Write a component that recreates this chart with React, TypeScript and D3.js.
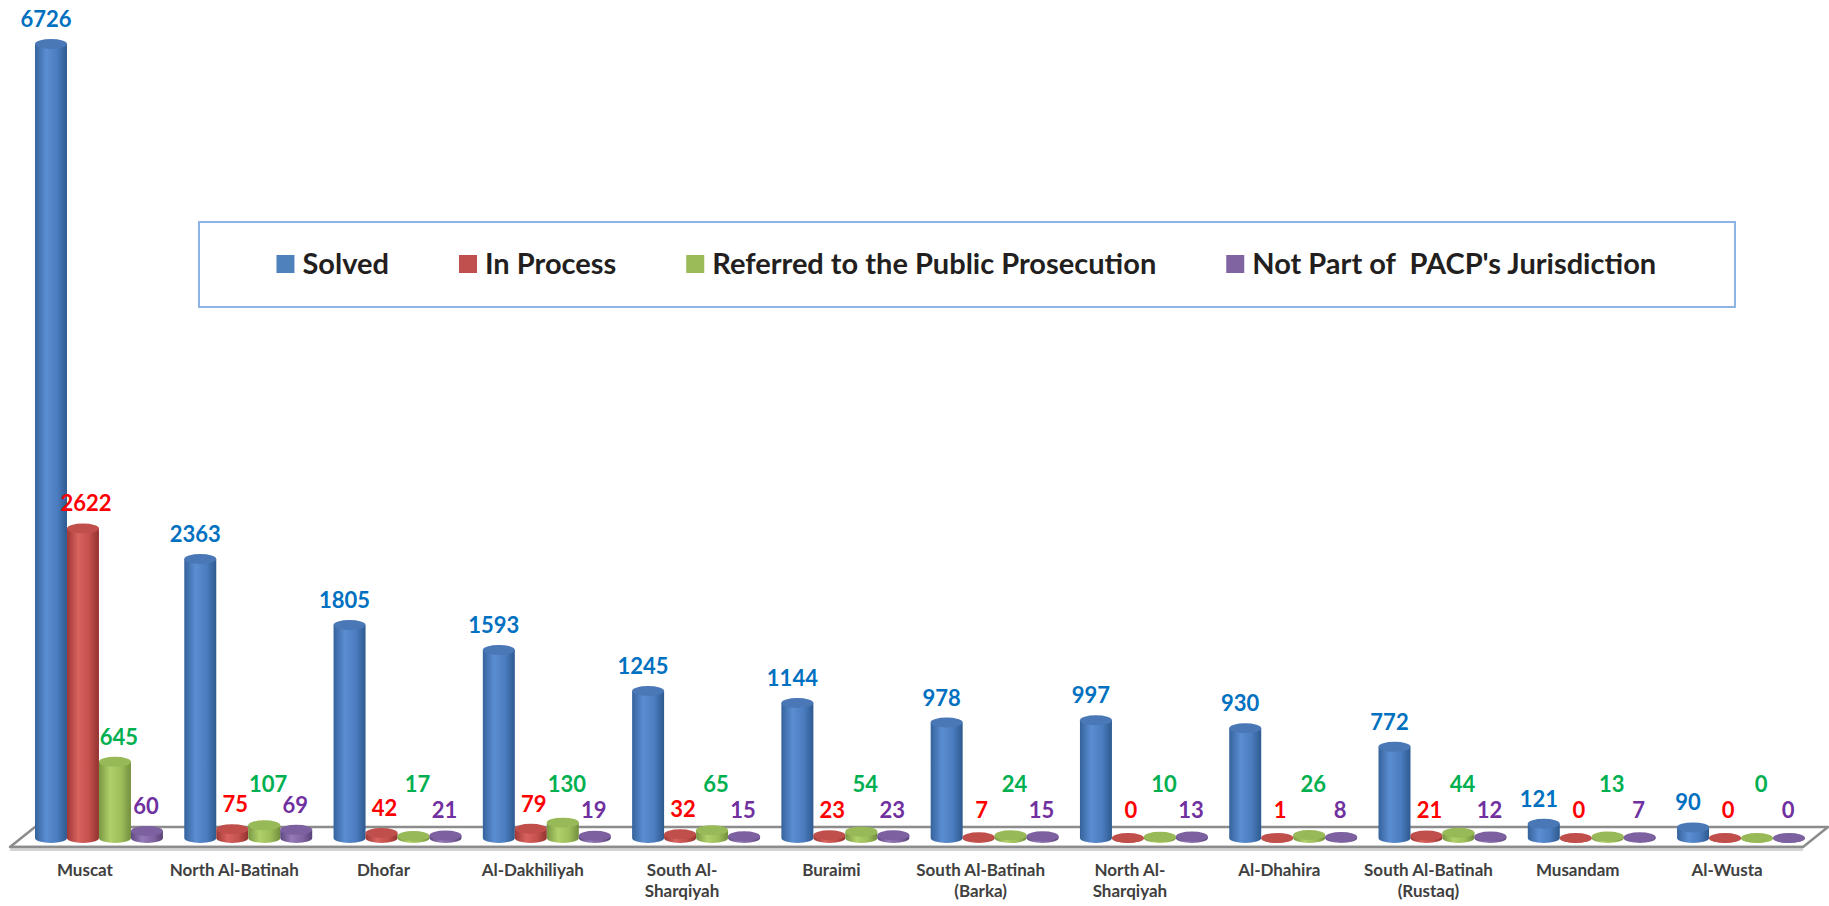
import { useMemo } from 'react';
import * as d3 from 'd3';

const categories = [
  'Muscat',
  'North Al-Batinah',
  'Dhofar',
  'Al-Dakhiliyah',
  'South Al-\nSharqiyah',
  'Buraimi',
  'South Al-Batinah\n(Barka)',
  'North Al-\nSharqiyah',
  'Al-Dhahira',
  'South Al-Batinah\n(Rustaq)',
  'Musandam',
  'Al-Wusta',
];

const solved = [6726, 2363, 1805, 1593, 1245, 1144, 978, 997, 930, 772, 121, 90];
const inProcess = [2622, 75, 42, 79, 32, 23, 7, 0, 1, 21, 0, 0];
const referred = [645, 107, 17, 130, 65, 54, 24, 10, 26, 44, 13, 0];
const notPart = [60, 69, 21, 19, 15, 23, 15, 13, 8, 12, 7, 0];

const seriesNames = [
  'Solved',
  'In Process',
  'Referred to the Public Prosecution',
  "Not Part of  PACP's Jurisdiction",
];

const W = 1829;
const H = 906;
const FONT = 'Lato, "Open Sans", sans-serif';

// cylinder shading per series: dark edge, light, mid, dark edge, top cap
const styles = [
  { id: 'blue', stops: ['#35639c', '#5b8dd2', '#4b7cbf', '#2e5a8f'], top: '#4a77b6', swatch: '#4f81bd', label: '#0070c0', dx: -5, clamp: 818 },
  { id: 'red', stops: ['#9e3835', '#d8625e', '#c3504c', '#93322f'], top: '#c04f4b', swatch: '#c0504d', label: '#ff0000', dx: 3, clamp: 818 },
  { id: 'green', stops: ['#7a9843', '#b0d06a', '#9dbd5a', '#738f3d'], top: '#98b957', swatch: '#9bbb59', label: '#00b050', dx: 4, clamp: 792 },
  { id: 'purple', stops: ['#5f4981', '#957ab8', '#8064a2', '#574276'], top: '#7c60a0', swatch: '#8064a2', label: '#7030a0', dx: -1, clamp: 818 },
];

const measure = (txt: string, font: string) => {
  const ctx = document.createElement('canvas').getContext('2d');
  if (!ctx) return txt.length * 14;
  ctx.font = font;
  return ctx.measureText(txt).width;
};

const App = () => {
  const series = [solved, inProcess, referred, notPart];

  const x0 = d3.scaleBand<string>().domain(categories).range([35, 1805]).paddingInner(0.143).paddingOuter(0);
  const x1 = d3.scaleBand<string>().domain(seriesNames).range([0, x0.bandwidth()]);
  const y = d3.scaleLinear().domain([0, d3.max(solved) || 1]).range([838, 44]);
  const ry = 5;
  const base = y(0);

  // floor geometry
  const depth = 25;
  const backY = 827;
  const frontY = 847;
  const floorL = x0.range()[0];
  const floorR = W - 1;

  const legend = useMemo(() => {
    const font = `bold 29px ${FONT}`;
    const widths = seriesNames.map((s) => measure(s, font));
    const sw = 18, gap = 8, itemGap = 70;
    const total = d3.sum(widths) + seriesNames.length * (sw + gap) + itemGap * (seriesNames.length - 1);
    let cx = (199 + 1735) / 2 - total / 2;
    return widths.map((w) => {
      const item = { x: cx, tx: cx + sw + gap };
      cx += sw + gap + w + itemGap;
      return item;
    });
  }, []);

  const labelX = (c: string) => (x0(c) || 0) + x0.bandwidth() / 2 - 14;

  return (
    <svg width={W} height={H} style={{ position: 'absolute', left: 0, top: 0, background: '#fff' }}>
      <defs>
        {styles.map((s) => (
          <linearGradient key={s.id} id={`g-${s.id}`} x1="0" x2="1" y1="0" y2="0">
            <stop offset="0%" stopColor={s.stops[0]} />
            <stop offset="35%" stopColor={s.stops[1]} />
            <stop offset="70%" stopColor={s.stops[2]} />
            <stop offset="100%" stopColor={s.stops[3]} />
          </linearGradient>
        ))}
      </defs>

      {/* floor */}
      <path
        d={`M${floorL},${backY} L${floorR},${backY} L${floorR - depth},${frontY} L${floorL - depth},${frontY} Z`}
        fill="#fff"
        stroke="#8c8c8c"
        strokeWidth={2.5}
        strokeLinejoin="round"
      />
      <line x1={floorL - depth} x2={floorR - depth} y1={frontY + 3} y2={frontY + 3} stroke="#d4d4d4" strokeWidth={2} />

      {/* cylinders */}
      {categories.map((c, i) => (
        <g key={c}>
          {series.map((vals, k) => {
            const st = styles[k];
            const w = x1.bandwidth();
            const bx = (x0(c) || 0) + (x1(seriesNames[k]) || 0);
            const cx = bx + w / 2;
            const top = y(vals[i]);
            const d = `M${bx},${top} L${bx},${base} A${w / 2},${ry} 0 0 0 ${bx + w},${base} L${bx + w},${top} Z`;
            return (
              <g key={k}>
                <path d={d} fill={`url(#g-${st.id})`} />
                <ellipse cx={cx} cy={top} rx={w / 2} ry={ry} fill={st.top} />
              </g>
            );
          })}
        </g>
      ))}

      {/* front edge of floor over bar bottoms */}
      <line x1={floorL - depth} x2={floorR - depth} y1={frontY} y2={frontY} stroke="#8c8c8c" strokeWidth={2.5} />

      {/* value labels */}
      {categories.map((c, i) =>
        series.map((vals, k) => {
          const st = styles[k];
          const w = x1.bandwidth();
          const cx = (x0(c) || 0) + (x1(seriesNames[k]) || 0) + w / 2 + st.dx;
          const ly = Math.min(y(vals[i]) - ry - 12, st.clamp);
          return (
            <text
              key={`${c}-${k}`}
              x={i === 0 && k === 0 ? Math.max(cx, 46) : cx}
              y={ly}
              textAnchor="middle"
              fontFamily={FONT}
              fontWeight="bold"
              fontSize={22}
              fill={st.label}
            >
              {vals[i]}
            </text>
          );
        })
      )}

      {/* category labels */}
      {categories.map((c) => (
        <text
          key={c}
          x={labelX(c)}
          y={876}
          textAnchor="middle"
          fontFamily={FONT}
          fontWeight="bold"
          fontSize={17}
          fill="#404040"
        >
          {c.split('\n').map((line, j) => (
            <tspan key={j} x={labelX(c)} dy={j === 0 ? 0 : 21}>
              {line}
            </tspan>
          ))}
        </text>
      ))}

      {/* legend */}
      <rect x={199} y={222} width={1536} height={85} fill="#fff" stroke="#8db4e2" strokeWidth={2} />
      {seriesNames.map((s, k) => (
        <g key={s}>
          <rect x={legend[k].x} y={255} width={18} height={18} fill={styles[k].swatch} />
          <text
            x={legend[k].tx}
            y={274}
            fontFamily={FONT}
            fontWeight="bold"
            fontSize={29}
            fill="#231f20"
            style={{ whiteSpace: 'pre' }}
          >
            {s}
          </text>
        </g>
      ))}
    </svg>
  );
};

export default App;
